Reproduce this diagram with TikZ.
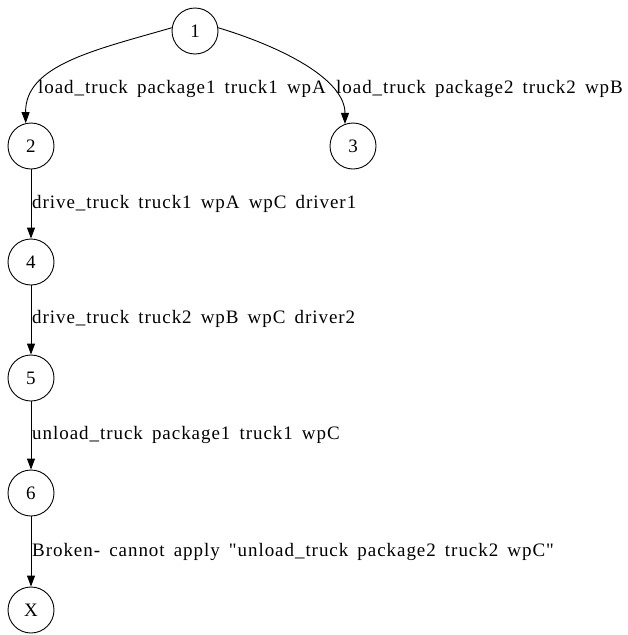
\documentclass[tikz,border=0pt]{standalone}
\usepackage{fontspec}
\setmainfont{Liberation Serif}
\newfontfamily\lblfont[LetterSpace=5,WordSpace=1.6]{Liberation Serif}
\usetikzlibrary{arrows.meta}
\tikzset{
  state/.style={draw, circle, line width=0.9pt, minimum size=46pt, inner sep=0pt, font=\fontsize{19pt}{21pt}\selectfont},
  edge/.style={draw, line width=0.9pt, -{Triangle[length=11pt,width=8pt]}},
  lbl/.style={anchor=west, inner sep=0pt, font=\lblfont\fontsize{19pt}{21pt}\selectfont}
}
\begin{document}
\begin{tikzpicture}[x=1pt,y=-1pt]
\useasboundingbox (0,0) rectangle (628,635);
\node[state] (n1) at (195,31) {1};
\node[state] (n2) at (31,146) {2};
\node[state] (n3) at (353,146) {3};
\node[state] (n4) at (31,262) {4};
\node[state] (n5) at (31,378) {5};
\node[state] (n6) at (31,493) {6};
\node[state] (nx) at (31,610) {X};
\draw[edge] (n1.172) .. controls (95,50) and (25,65) .. (n2.103);
\draw[edge] (n1.8) .. controls (285,48) and (345,80) .. (n3.110);
\draw[edge] (n2) -- (n4);
\draw[edge] (n4) -- (n5);
\draw[edge] (n5) -- (n6);
\draw[edge] (n6) -- (nx);
\node[lbl] (l1) at (38,89) {load\_truck package1 truck1 wpA};
\node[lbl] (l2) at (336,89) {load\_truck package2 truck2 wpB};
\node[lbl] (l3) at (32,204) {drive\_truck truck1 wpA wpC driver1};
\node[lbl] (l4) at (32,319) {drive\_truck truck2 wpB wpC driver2};
\node[lbl] (l5) at (32,435) {unload\_truck package1 truck1 wpC};
\node[lbl] (l6) at (32,552) {Broken- cannot apply "unload\_truck package2 truck2 wpC"};
\end{tikzpicture}
\end{document}
